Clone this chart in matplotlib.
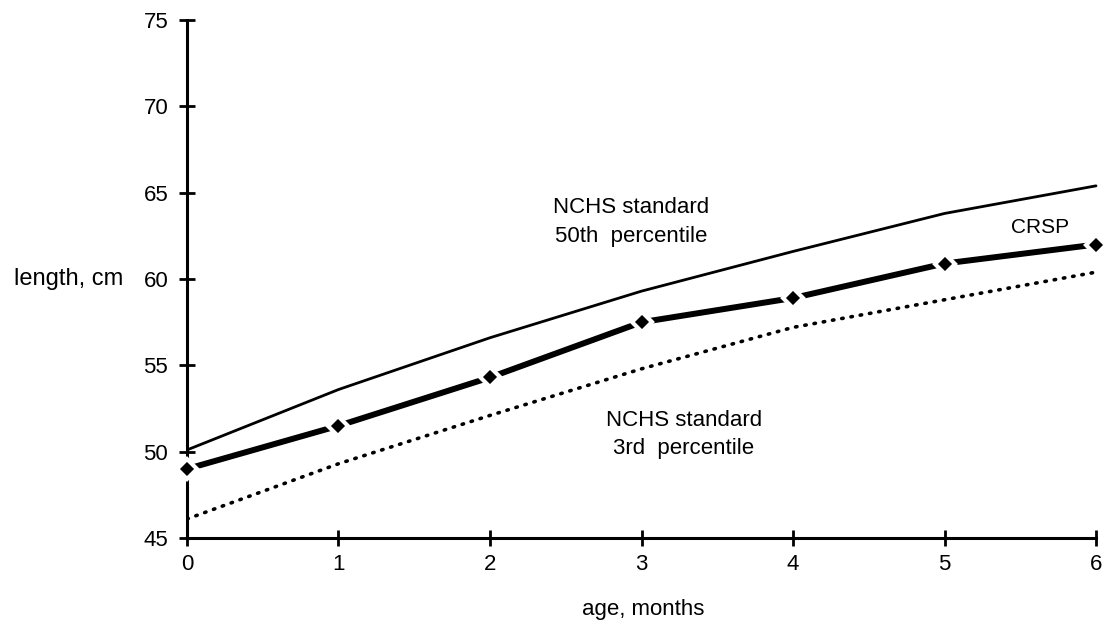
import matplotlib
matplotlib.use('Agg')
import matplotlib.pyplot as plt

matplotlib.rcParams['font.family'] = 'Liberation Sans'

# --- data ---
age_months = [0, 1, 2, 3, 4, 5, 6]
nchs_50th = [50.1, 53.6, 56.6, 59.3, 61.6, 63.8, 65.4]
nchs_3rd = [46.1, 49.3, 52.1, 54.8, 57.2, 58.8, 60.4]
crsp = [49.0, 51.5, 54.3, 57.5, 58.9, 60.9, 62.0]

y_ticks = [45, 50, 55, 60, 65, 70, 75]

fig = plt.figure(figsize=(11.15, 6.29), dpi=100)
ax = fig.add_axes([0.1677, 0.1447, 0.8180, 0.8233])

# NCHS 50th percentile, thin solid line
ax.plot(age_months, nchs_50th, color='black', lw=2.0, solid_capstyle='round')

# NCHS 3rd percentile, dotted
ax.plot(age_months, nchs_3rd, color='black', lw=2.6,
        linestyle=(0, (0.4, 2.2)), dash_capstyle='round')

# CRSP, heavy line with diamond markers (white halo gives the gap)
ax.plot(age_months, crsp, color='black', lw=4.3, solid_capstyle='butt')
ax.plot(age_months, crsp, linestyle='none', marker='D', markersize=10,
        markerfacecolor='black', markeredgecolor='white', markeredgewidth=3,
        clip_on=False, zorder=3)

# annotations
ax.text(2.93, 63.3, 'NCHS standard\n50th  percentile', ha='center', va='center',
        fontsize=16, linespacing=1.45)
ax.text(3.28, 51.0, 'NCHS standard\n3rd  percentile', ha='center', va='center',
        fontsize=16, linespacing=1.45)
ax.text(5.63, 63.0, 'CRSP', ha='center', va='center', fontsize=15)

ax.set_xlim(0, 6.02)
ax.set_ylim(45, 75)
ax.set_xticks(age_months)
ax.set_yticks(y_ticks)

for side in ['top', 'right']:
    ax.spines[side].set_visible(False)
for side in ['left', 'bottom']:
    ax.spines[side].set_linewidth(2.2)
ax.spines['bottom'].set_bounds(0, 6)

ax.tick_params(axis='both', direction='inout', length=11, width=2, labelsize=16)
ax.tick_params(axis='x', pad=6)
ax.tick_params(axis='y', pad=8)

ax.set_xlabel('age, months', fontsize=16, labelpad=17)
ax.set_ylabel('length, cm', fontsize=17, rotation=0, ha='right', va='center')
ax.yaxis.set_label_coords(-0.07, 0.5)

fig.savefig('out.png', dpi=100)
